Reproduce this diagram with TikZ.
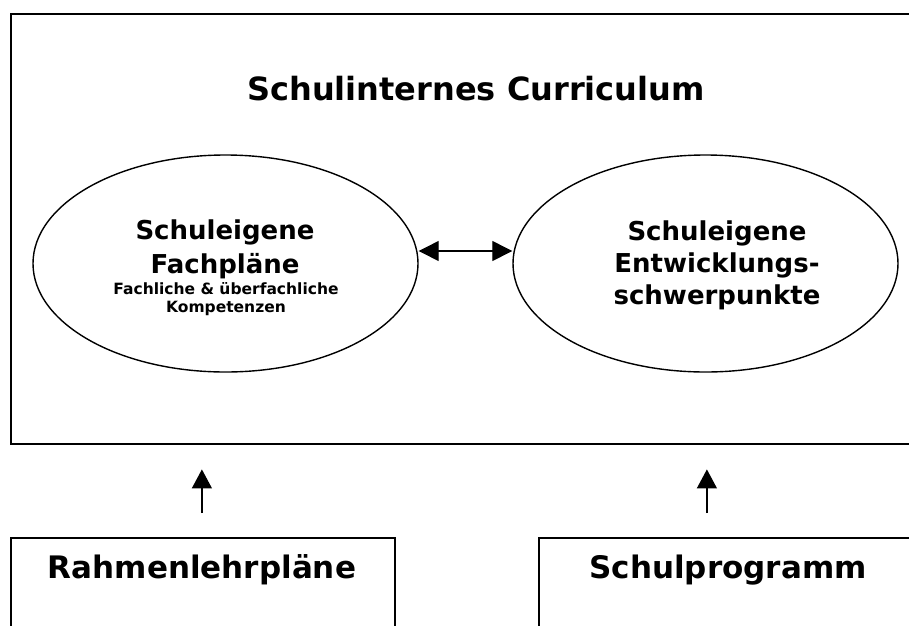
\documentclass[tikz,border=0pt]{standalone}
\usepackage{fontspec}
\setmainfont{DejaVu Sans}
\usepackage{tikz}
\usetikzlibrary{shapes.geometric, arrows.meta, positioning, calc}

\begin{document}
\begin{tikzpicture}[x=1pt, y=-1pt,
    frame/.style={draw, line width=2.4pt, rectangle, inner sep=0pt},
    basebox/.style={draw, line width=1.8pt, rectangle, inner sep=0pt},
    blob/.style={draw, line width=1.4pt, ellipse, minimum width=385pt, minimum height=217pt, inner sep=0pt},
    link/.style={line width=1.3pt, -{Triangle[length=19pt, width=20pt]}},
    twoway/.style={line width=1.3pt, {Triangle[length=20pt, width=20pt]}-{Triangle[length=20pt, width=20pt]}}]
    \clip (0,0) rectangle (909,625);

    % Curriculum frame
    \node[frame, minimum width=940pt, minimum height=430pt, anchor=north west] (curr) at (10,13) {};
    \node[anchor=base, font=\fontsize{32}{38}\selectfont\bfseries] (title) at (476,100) {Schulinternes Curriculum};

    % Fachplaene
    \node[blob] (plans) at (225.5,263.5) {};
    \node[align=center, font=\fontsize{26}{34}\selectfont\bfseries] (planstext) at (225,249) {Schuleigene\\Fachpläne};
    \node[align=center, font=\fontsize{15.5}{18}\selectfont\bfseries, inner sep=0pt] (planssub) at (226,299) {Fachliche \& überfachliche\\Kompetenzen};

    % Entwicklungsschwerpunkte
    \node[blob] (focus) at (705.5,263.5) {};
    \node[align=center, font=\fontsize{26}{32}\selectfont\bfseries, inner sep=0pt] (focustext) at (717,265) {Schuleigene\\Entwicklungs-\\schwerpunkte};

    \draw[twoway] ([yshift=12.5pt]plans.east) -- ([yshift=12.5pt]focus.west);

    % Sources
    \node[basebox, minimum width=384pt, minimum height=120pt, anchor=north west] (rlp) at (10,537) {};
    \node[anchor=base, font=\fontsize{31}{36}\selectfont\bfseries] (rlptext) at (202,578) {Rahmenlehrpläne};
    \node[basebox, minimum width=400pt, minimum height=120pt, anchor=north west] (prog) at (538,537) {};
    \node[anchor=base, font=\fontsize{31}{36}\selectfont\bfseries] (progtext) at (728,578) {Schulprogramm};

    \draw[link, shorten <=24pt, shorten >=24pt] ([xshift=-1pt]rlp.north) -- ([xshift=-1pt]rlp.north |- curr.south);
    \draw[link, shorten <=24pt, shorten >=24pt] ([xshift=-32pt]prog.north) -- ([xshift=-32pt]prog.north |- curr.south);
\end{tikzpicture}
\end{document}
